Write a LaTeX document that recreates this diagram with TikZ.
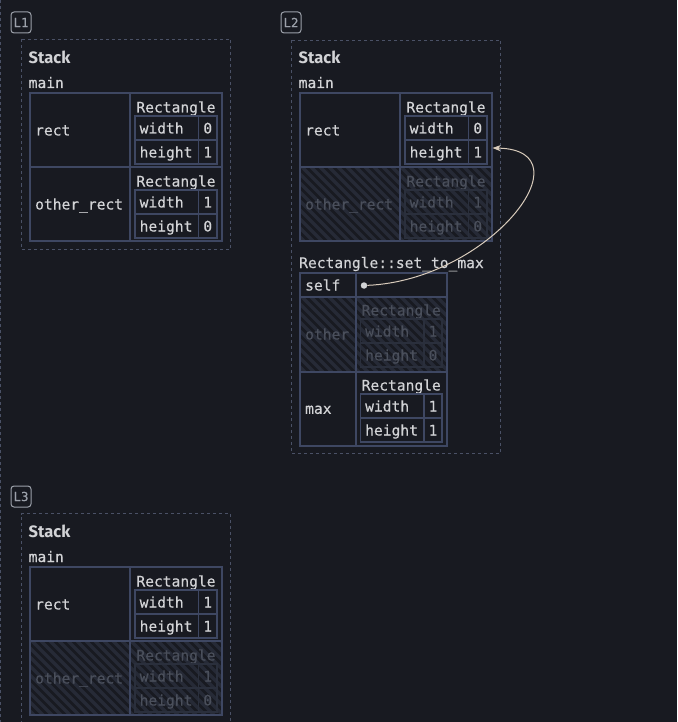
\documentclass[tikz,border=0pt]{standalone}
\usepackage{fontspec}
\setsansfont{Fira Sans}
\setmonofont{DejaVu Sans Mono}
\newfontfamily\monob{DejaVu Sans Mono}[FakeBold=0.35]
\usetikzlibrary{arrows.meta}
\definecolor{bg}{HTML}{181A21}
\definecolor{framec}{HTML}{4A5166}
\definecolor{tblc}{HTML}{3E4762}
\definecolor{dimin}{HTML}{2A2F3C}
\definecolor{txtc}{HTML}{D2D3D6}
\definecolor{dimtxtc}{HTML}{4A4F5B}
\definecolor{hatchc}{HTML}{262A36}
\definecolor{ptrc}{HTML}{D9CCBC}
\definecolor{lblc}{HTML}{9CA1AA}
\tikzset{
  framebox/.style={draw=framec,line width=0.8pt,dash pattern=on 3pt off 3pt},
  tbl/.style={draw=tblc,line width=2pt},
  ninner/.style={draw=tblc,line width=1.5pt},
  dinner/.style={draw=dimin,line width=1.5pt},
  ntxt/.style={text=txtc,inner sep=0pt,font=\monob\fontsize{14.6}{16}\selectfont},
  dtxt/.style={text=dimtxtc,inner sep=0pt,font=\monob\fontsize{14.6}{16}\selectfont},
  stacktxt/.style={text=txtc,inner sep=0pt,font=\sffamily\bfseries\fontsize{16.5}{18}\selectfont},
  lbl/.style={draw=lblc,line width=1pt,rounded corners=3pt,minimum width=20pt,minimum height=21pt,inner sep=0pt,text=lblc,font=\monob\fontsize{12.5}{14}\selectfont},
  hatch/.style={draw=hatchc,line width=3.2pt},
  ptr/.style={draw=ptrc,line width=1pt,-{Stealth[length=8pt,width=6pt,inset=2pt]}},
  dotnode/.style={circle,fill=txtc,minimum size=6.5pt,inner sep=0pt},
}
\newcommand\rectval[7]{%
  \node[#7txt,anchor=base] (#1t) at ({(#2+#3)/2},#4+19.5) {Rectangle};
  \draw[#7inner] (#2,#4+23) rectangle (#3,#4+71);
  \draw[#7inner] (#2,#4+47) -- (#3,#4+47);
  \draw[#7inner] (#2+63.5,#4+23) -- (#2+63.5,#4+71);
  \node[#7txt,anchor=base west] (#1wk) at (#2+4.5,#4+40.5) {width};
  \node[#7txt,anchor=base] (#1wv) at ({(#2+63.5+#3)/2},#4+40.5) {#5};
  \node[#7txt,anchor=base west] (#1hk) at (#2+4.5,#4+64.5) {height};
  \node[#7txt,anchor=base] (#1hv) at ({(#2+63.5+#3)/2},#4+64.5) {#6};
}
\newcommand\hatchbox[4]{%
  \begin{scope}
    \clip (#1,#2) rectangle (#3,#4);
    \foreach \k in {-90,-81,...,200} \draw[hatch] (#1+\k,#2-2) -- ++(85,85);
  \end{scope}
}
\begin{document}
\begin{tikzpicture}[x=1pt,y=-1pt]
\fill[bg] (0,0) rectangle (677,722);
\useasboundingbox (0,0) rectangle (677,722);
\draw[framebox] (0.6,0) -- (0.6,722);

% ---------- L1 ----------
\node[lbl] (l1lab) at (21,22.5) {L1};
\draw[framebox] (21.5,39.5) rectangle (230.5,249);
\node[stacktxt,anchor=base west] (l1stack) at (28.5,63.5) {Stack};
\node[ntxt,anchor=base west] (l1main) at (28.5,88) {main};
\node[ntxt,anchor=base west] (l1rect) at (35,135.5) {rect};
\rectval{l1r}{135}{217}{93}{0}{1}{n}
\node[ntxt,anchor=base west] (l1other) at (35,209.5) {other\_rect};
\rectval{l1o}{135}{217}{167}{1}{0}{n}
\draw[tbl] (30,93) rectangle (221.5,241);
\draw[tbl] (30,167) -- (221.5,167);
\draw[tbl] (130,93) -- (130,241);

% ---------- L2 ----------
\node[lbl] (l2lab) at (291,22.5) {L2};
\draw[framebox] (291.5,40) rectangle (500.5,453.5);
\node[stacktxt,anchor=base west] (l2stack) at (298.5,63.5) {Stack};
\node[ntxt,anchor=base west] (l2main) at (298.5,88) {main};
\hatchbox{300}{167}{492}{241}
\node[ntxt,anchor=base west] (l2rect) at (305,135.5) {rect};
\rectval{l2r}{405}{487}{93}{0}{1}{n}
\node[dtxt,anchor=base west] (l2other) at (305,209.5) {other\_rect};
\rectval{l2o}{405}{487}{167}{1}{0}{d}
\draw[tbl] (300,93) rectangle (491.5,241);
\draw[tbl] (300,167) -- (491.5,167);
\draw[tbl] (400,93) -- (400,241);
\coordinate (l2tgt) at (492.5,148);

% frame
\node[ntxt,anchor=base west] (fname) at (299,268) {Rectangle::set\_to\_max};
\hatchbox{300}{297}{447}{372}
\node[ntxt,anchor=base west] (fself) at (305,290.5) {self};
\node[dotnode] (selfdot) at (364,285.5) {};
\node[dtxt,anchor=base west] (fother) at (305,339.5) {other};
\rectval{fo}{360.5}{442}{296}{1}{0}{d}
\node[ntxt,anchor=base west] (fmax) at (305,413.8) {max};
\rectval{fm}{360.5}{442}{371}{1}{1}{n}
\draw[tbl] (300,273) rectangle (447,446);
\draw[tbl] (300,297) -- (447,297);
\draw[tbl] (300,372) -- (447,372);
\draw[tbl] (355.5,273) -- (355.5,446);
\draw[ptr] (selfdot) .. controls (490,280) and (590,150) .. (l2tgt);

% ---------- L3 ----------
\node[lbl] (l3lab) at (21,496.5) {L3};
\draw[framebox] (21.5,730) -- (21.5,513.5) -- (230.5,513.5) -- (230.5,730);
\node[stacktxt,anchor=base west] (l3stack) at (28.5,537.5) {Stack};
\node[ntxt,anchor=base west] (l3main) at (28.5,562) {main};
\hatchbox{30}{641}{221.5}{715}
\node[ntxt,anchor=base west] (l3rect) at (35,609.5) {rect};
\rectval{l3r}{135}{217}{567}{1}{1}{n}
\node[dtxt,anchor=base west] (l3other) at (35,683.5) {other\_rect};
\rectval{l3o}{135}{217}{641}{1}{0}{d}
\draw[tbl] (30,567) rectangle (221.5,715);
\draw[tbl] (30,641) -- (221.5,641);
\draw[tbl] (130,567) -- (130,715);
\end{tikzpicture}
\end{document}
